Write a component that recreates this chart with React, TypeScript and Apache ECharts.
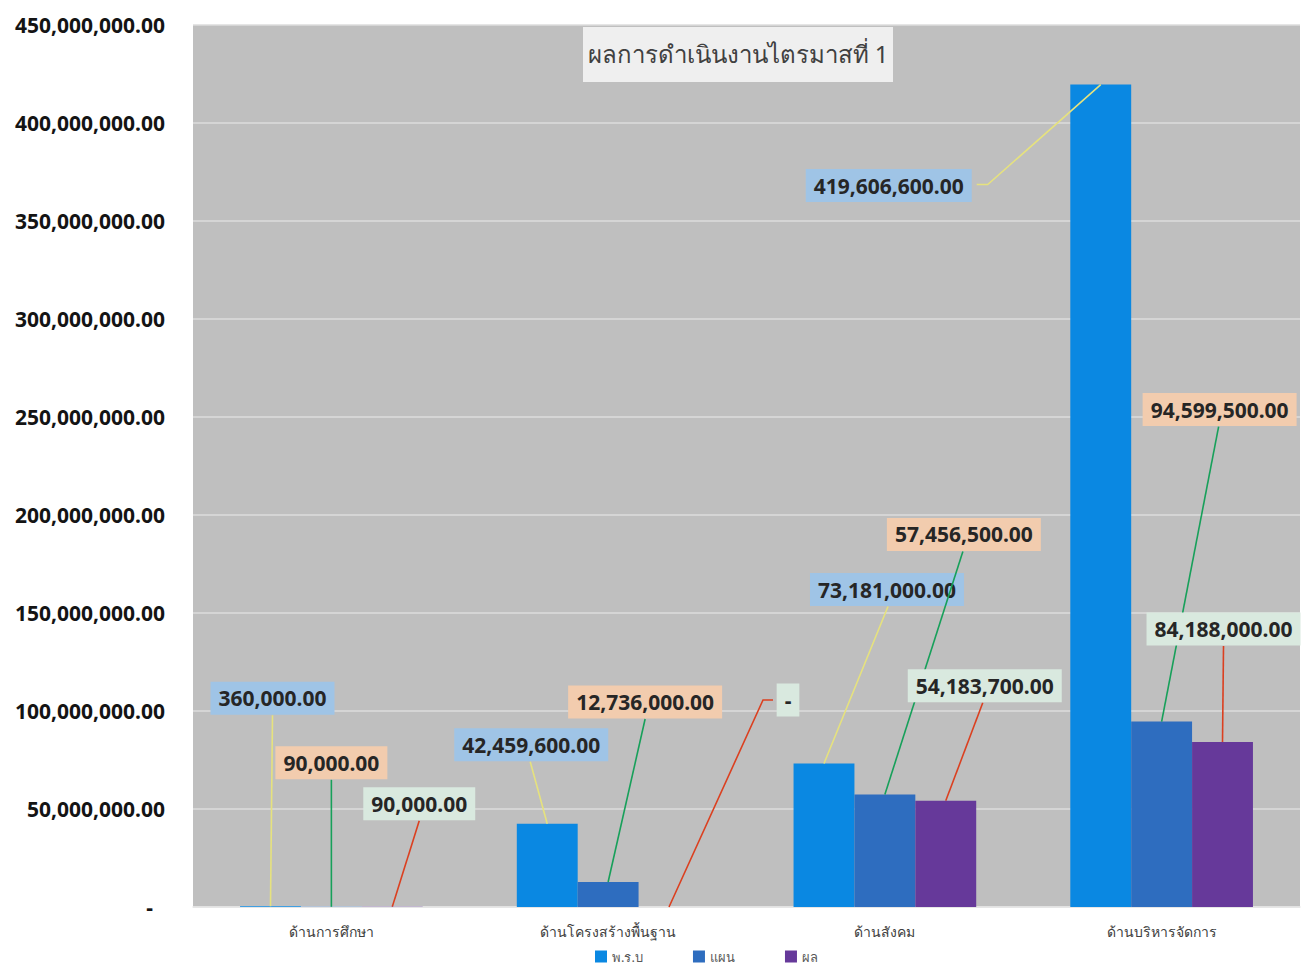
import React, { useEffect, useRef } from 'react';
import * as echarts from 'echarts';

const categories = ['ด้านการศึกษา', 'ด้านโครงสร้างพื้นฐาน', 'ด้านสังคม', 'ด้านบริหารจัดการ'];
const seriesNames = ['พ.ร.บ', 'แผน', 'ผล'];
const actValues = [360000, 42459600, 73181000, 419606600];
const planValues = [90000, 12736000, 57456500, 94599500];
const resultValues = [90000, 0, 54183700, 84188000];
const titleText = 'ผลการดำเนินงานไตรมาสที่ 1';

// label centre relative to bar top centre (px), then leader-line points relative to bar top centre
type LabelPlace = { d: [number, number]; line: [number, number][] };
const actPlaces: LabelPlace[] = [
  { d: [2, -208], line: [[2, -191]] },
  { d: [-16, -79], line: [[-17, -62]] },
  { d: [63, -174], line: [[64, -157]] },
  { d: [-212, 101], line: [[-113, 100], [-124, 100]] },
];
const planPlaces: LabelPlace[] = [
  { d: [0, -144], line: [[0, -127]] },
  { d: [37, -180], line: [[37, -163]] },
  { d: [79, -260], line: [[78, -243]] },
  { d: [58, -312], line: [[57, -295]] },
];
const resultPlaces: LabelPlace[] = [
  { d: [27, -103], line: [[27, -86]] },
  { d: [119, -207], line: [[94, -207], [104, -207]] },
  { d: [39, -115], line: [[37, -98]] },
  { d: [1, -113], line: [[1, -96]] },
];

const BAR_CATEGORY_GAP = 0.34;

const fmt = (v: number) =>
  v === 0
    ? '-'
    : v.toLocaleString('en-US', { minimumFractionDigits: 2, maximumFractionDigits: 2 });

function makeLayout(places: LabelPlace[]) {
  return (p: any) => {
    const o = places[p.dataIndex];
    if (!o) return {};
    const bx = p.rect.x + p.rect.width / 2;
    const by = p.rect.y;
    return { x: bx + o.d[0], y: by + o.d[1], align: 'center', verticalAlign: 'middle' };
  };
}

const FONT = "'Noto Sans', 'DejaVu Sans', sans-serif";

function makeSeries(
  name: string,
  values: number[],
  color: string,
  labelBg: string,
  places: LabelPlace[],
  z: number
) {
  return {
    name,
    type: 'bar',
    data: values,
    barGap: '0%',
    barCategoryGap: BAR_CATEGORY_GAP * 100 + '%',
    itemStyle: { color },
    z,
    label: {
      show: true,
      position: 'top',
      formatter: (p: any) => fmt(p.value),
      fontFamily: FONT,
      fontSize: 21,
      fontWeight: 'bold',
      color: '#262626',
      backgroundColor: labelBg,
      padding: [7, 8, 5, 8],
    },
    labelLayout: makeLayout(places),
  };
}

const allValues = [actValues, planValues, resultValues];
const allPlaces = [actPlaces, planPlaces, resultPlaces];
const lineColors = ['#e6e27e', '#17a05a', '#db4020'];

function leaderSeries(k: number) {
  const values = allValues[k];
  return {
    type: 'custom',
    name: 'leader' + k,
    z: 3,
    silent: true,
    clip: false,
    encode: { x: 0, y: 1 },
    data: values.map((v, i) => [i, v]),
    renderItem: (params: any, api: any) => {
      const ci = api.value(0);
      const v = api.value(1);
      const top = api.coord([ci, v]);
      const band = api.size([1, 0])[0];
      const barW = (band * (1 - BAR_CATEGORY_GAP)) / 3;
      const bx = top[0] + (k - 1) * barW;
      const by = top[1];
      const place = allPlaces[k][params.dataIndex];
      const pts = [[bx, by], ...place.line.map((q) => [bx + q[0], by + q[1]])];
      return {
        type: 'polyline',
        shape: { points: pts },
        style: { stroke: lineColors[k], lineWidth: 1.6, fill: null },
      };
    },
  };
}

export default function App() {
  const ref = useRef<HTMLDivElement>(null);
  useEffect(() => {
    document.body.style.margin = '0';
    const chart = echarts.init(ref.current!, undefined, { renderer: 'svg' });
    const option: any = {
      animation: false,
      backgroundColor: '#ffffff',
      textStyle: { fontFamily: FONT },
      grid: {
        left: 193,
        right: 10,
        top: 25,
        bottom: 60,
        show: true,
        backgroundColor: '#bfbfbf',
        borderWidth: 0,
      },
      legend: {
        data: seriesNames,
        left: 590,
        top: 945,
        icon: 'rect',
        itemWidth: 12,
        itemHeight: 12,
        itemGap: 50,
        textStyle: { fontSize: 13, color: '#595959', fontFamily: FONT },
      },
      graphic: [
        {
          type: 'group',
          children: [
            {
              type: 'rect',
              shape: { x: 583, y: 27, width: 310, height: 55 },
              style: { fill: '#efefef' },
            },
            {
              type: 'text',
              x: 738,
              y: 53,
              style: {
                text: titleText,
                fontSize: 24,
                fill: '#404040',
                fontFamily: FONT,
                align: 'center',
                verticalAlign: 'middle',
              },
            },
          ],
        },
      ],
      xAxis: {
        type: 'category',
        data: categories,
        axisLine: { show: true, lineStyle: { color: '#e6e6e6', width: 1.5 } },
        axisTick: { show: false },
        axisLabel: { fontSize: 14, color: '#404040', margin: 17, fontFamily: FONT },
      },
      yAxis: {
        type: 'value',
        min: 0,
        max: 450000000,
        interval: 50000000,
        axisLine: { show: false },
        axisTick: { show: false },
        splitLine: { lineStyle: { color: '#dcdcdc', width: 1.5 } },
        axisLabel: {
          margin: 28,
          formatter: (v: number) => (v === 0 ? '{z|-}' : fmt(v)),
          fontSize: 21,
          fontWeight: 'bold',
          color: '#141414',
          fontFamily: FONT,
          rich: {
            z: {
              fontSize: 21,
              fontWeight: 'bold',
              color: '#141414',
              fontFamily: FONT,
              padding: [0, 12, 0, 0],
            },
          },
        },
      },
      series: [
        makeSeries(seriesNames[0], actValues, '#0a88e2', '#9fc4e6', actPlaces, 2),
        makeSeries(seriesNames[1], planValues, '#2e6dbf', '#f2ccae', planPlaces, 2),
        makeSeries(seriesNames[2], resultValues, '#66399a', '#d9e9df', resultPlaces, 4),
        leaderSeries(0),
        leaderSeries(1),
        leaderSeries(2),
      ],
    };
    chart.setOption(option);
    return () => chart.dispose();
  }, []);
  return <div ref={ref} style={{ width: 1310, height: 967 }} />;
}
